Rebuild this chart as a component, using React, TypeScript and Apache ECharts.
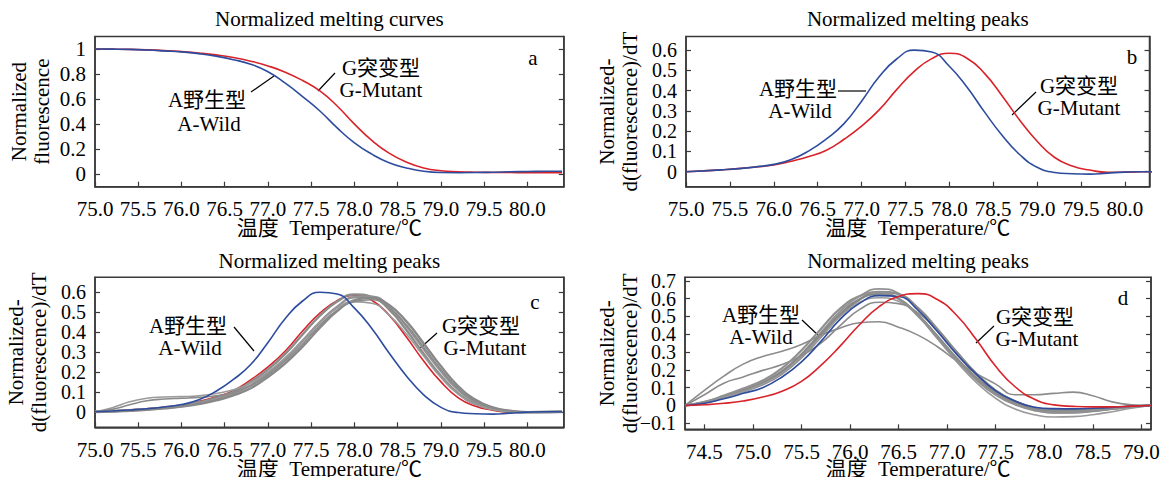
import React, { useEffect, useRef } from "react";
import * as echarts from "echarts";

// ---------- data ----------
const peaksX = [75.0, 75.2, 75.4, 75.6, 75.8, 76.0, 76.2, 76.4, 76.6, 76.8, 77.0, 77.2, 77.4, 77.6, 77.8, 78.0, 78.2, 78.4, 78.6, 78.8, 79.0, 79.2, 79.4, 79.6, 79.8, 80.0, 80.2, 80.4];

// panel a: normalized melting curves
const meltWild = [1.0, 0.999, 0.997, 0.992, 0.985, 0.977, 0.963, 0.943, 0.915, 0.878, 0.818, 0.727, 0.62, 0.505, 0.37, 0.25, 0.16, 0.092, 0.05, 0.023, 0.013, 0.012, 0.013, 0.016, 0.019, 0.021, 0.023, 0.024];
const meltMutant = [1.0, 0.999, 0.997, 0.993, 0.987, 0.979, 0.968, 0.953, 0.932, 0.903, 0.865, 0.815, 0.748, 0.665, 0.545, 0.4, 0.27, 0.168, 0.097, 0.05, 0.028, 0.02, 0.016, 0.014, 0.013, 0.012, 0.012, 0.012];

// panels b, c: normalized melting peaks
const peakWild = [0, 0.004, 0.009, 0.015, 0.024, 0.036, 0.06, 0.103, 0.162, 0.237, 0.348, 0.468, 0.556, 0.6, 0.591, 0.52, 0.418, 0.295, 0.18, 0.085, 0.022, -0.004, -0.01, -0.012, -0.007, -0.002, 0, 0];
const peakMutant = [0, 0.004, 0.009, 0.015, 0.023, 0.033, 0.052, 0.075, 0.106, 0.16, 0.225, 0.305, 0.405, 0.495, 0.558, 0.584, 0.56, 0.485, 0.375, 0.255, 0.15, 0.07, 0.028, 0.008, -0.003, -0.002, 0, 0];

// panel c: samples (grey)
const sampleC1 = [0, 0.003, 0.008, 0.014, 0.021, 0.032, 0.048, 0.07, 0.1, 0.149, 0.213, 0.291, 0.388, 0.482, 0.553, 0.589, 0.577, 0.514, 0.41, 0.291, 0.18, 0.092, 0.039, 0.013, 0.0, -0.002, -0.001, 0];
const sampleC2 = [0, 0.002, 0.007, 0.012, 0.019, 0.029, 0.044, 0.064, 0.091, 0.133, 0.193, 0.265, 0.355, 0.45, 0.527, 0.575, 0.578, 0.525, 0.43, 0.315, 0.203, 0.11, 0.049, 0.018, 0.003, -0.003, -0.001, 0];
const sampleC3 = [0, 0.001, 0.005, 0.01, 0.017, 0.026, 0.039, 0.057, 0.082, 0.118, 0.175, 0.243, 0.327, 0.422, 0.505, 0.56, 0.571, 0.536, 0.454, 0.343, 0.228, 0.128, 0.06, 0.022, 0.005, -0.002, -0.002, 0];
const sampleC4 = [0, 0.02, 0.05, 0.068, 0.074, 0.076, 0.08, 0.092, 0.11, 0.145, 0.2, 0.272, 0.36, 0.45, 0.52, 0.553, 0.545, 0.485, 0.39, 0.28, 0.172, 0.088, 0.036, 0.012, 0.0, -0.002, 0, 0];
const sampleC5 = [0, 0.012, 0.035, 0.055, 0.064, 0.068, 0.072, 0.08, 0.097, 0.13, 0.185, 0.255, 0.34, 0.435, 0.51, 0.553, 0.562, 0.52, 0.435, 0.325, 0.212, 0.116, 0.053, 0.019, 0.004, -0.002, 0, 0];

// panel d
const dX = [74.3, 74.5, 74.7, 74.9, 75.1, 75.3, 75.5, 75.7, 75.9, 76.1, 76.3, 76.5, 76.7, 76.9, 77.1, 77.3, 77.5, 77.7, 77.9, 78.1, 78.3, 78.5, 78.7, 78.9, 79.1];
const dWild = [0, 0.012, 0.038, 0.068, 0.1, 0.16, 0.245, 0.36, 0.485, 0.575, 0.617, 0.612, 0.535, 0.415, 0.287, 0.176, 0.082, 0.025, -0.01, -0.018, -0.019, -0.016, -0.011, -0.004, 0];
const dMutant = [0, 0.004, 0.012, 0.025, 0.047, 0.08, 0.135, 0.225, 0.335, 0.455, 0.555, 0.612, 0.628, 0.595, 0.505, 0.37, 0.22, 0.105, 0.035, 0.003, -0.005, -0.008, -0.008, -0.004, 0];
const sampleD1 = [0, 0.02, 0.05, 0.085, 0.13, 0.195, 0.29, 0.41, 0.53, 0.615, 0.655, 0.63, 0.545, 0.42, 0.29, 0.17, 0.075, 0.015, -0.02, -0.03, -0.03, -0.024, -0.015, -0.006, 0];
const sampleD2 = [0, 0.016, 0.045, 0.078, 0.118, 0.178, 0.27, 0.385, 0.505, 0.595, 0.638, 0.625, 0.548, 0.43, 0.3, 0.18, 0.085, 0.022, -0.015, -0.03, -0.032, -0.027, -0.018, -0.008, 0];
const sampleD3 = [0, 0.018, 0.05, 0.085, 0.125, 0.19, 0.285, 0.4, 0.515, 0.598, 0.625, 0.6, 0.51, 0.39, 0.265, 0.155, 0.068, 0.012, -0.025, -0.04, -0.04, -0.032, -0.02, -0.008, 0];
const sampleD4 = [0, 0.015, 0.045, 0.078, 0.12, 0.18, 0.275, 0.385, 0.5, 0.58, 0.605, 0.585, 0.5, 0.375, 0.245, 0.13, 0.04, -0.02, -0.052, -0.065, -0.063, -0.052, -0.035, -0.015, 0];
const sampleD5 = [0, 0.06, 0.125, 0.16, 0.197, 0.23, 0.28, 0.35, 0.45, 0.54, 0.58, 0.572, 0.52, 0.42, 0.3, 0.18, 0.085, 0.025, -0.01, -0.022, -0.024, -0.02, -0.013, -0.005, 0];
const sampleD6 = [0, 0.085, 0.165, 0.232, 0.275, 0.305, 0.343, 0.395, 0.435, 0.465, 0.47, 0.44, 0.395, 0.33, 0.25, 0.18, 0.12, 0.06, 0.06, 0.068, 0.075, 0.055, 0.02, 0.004, 0];
const sampleD7 = [0, 0.02, 0.055, 0.095, 0.14, 0.21, 0.31, 0.43, 0.545, 0.615, 0.635, 0.6, 0.505, 0.38, 0.255, 0.145, 0.06, 0.005, -0.028, -0.04, -0.038, -0.03, -0.018, -0.007, 0];

// ticks
const xTicksABC = [75.0, 75.5, 76.0, 76.5, 77.0, 77.5, 78.0, 78.5, 79.0, 79.5, 80.0];
const xTicksD = [74.5, 75.0, 75.5, 76.0, 76.5, 77.0, 77.5, 78.0, 78.5, 79.0];
const yTicksA = [0, 0.2, 0.4, 0.6, 0.8, 1];
const yTicksBC = [0, 0.1, 0.2, 0.3, 0.4, 0.5, 0.6];
const yTicksD = [-0.1, 0, 0.1, 0.2, 0.3, 0.4, 0.5, 0.6, 0.7];
// panel d's tick labels are split over two coincident left axes so that none is dropped
const yTicksDOdd = [-0.1, 0.1, 0.3, 0.5, 0.7];
const yTicksDEven = [0, 0.2, 0.4, 0.6];

const titles = ["Normalized melting curves", "Normalized melting peaks", "Normalized melting peaks", "Normalized melting peaks"];
const panelLetters = ["a", "b", "c", "d"];
const xName = "温度  Temperature/℃";
const yNames = ["Normalized\nfluorescence", "Normalized-\nd(fluorescence)/dT", "Normalized-\nd(fluorescence)/dT", "Normalized-\nd(fluorescence)/dT"];

// ---------- styling ----------
const FONT = "'Liberation Serif', 'Times New Roman', 'Noto Sans CJK SC', serif";
const AX = "#3a3a3a";
const BLUE = "#2d4c9e";
const RED = "#d8232a";
const GREY = "#8c8c8c";
const FS = 21;

const grids = [
  { left: 95, top: 36.5, width: 468.8, height: 150.2 },
  { left: 686, top: 36.5, width: 463.5, height: 150.2 },
  { left: 95, top: 277.3, width: 468.8, height: 150 },
  { left: 685, top: 277.3, width: 466, height: 152 },
];
const xRanges = [[75, 80.42], [75, 80.28], [75, 80.42], [74.3, 79.1]];
const yRanges = [[-0.1, 1.1], [-0.074, 0.667], [-0.078, 0.675], [-0.134, 0.72]];
const yNameGaps = [42, 45, 45, 44];
const yLabelSizes = [21, 20, 20, 20];
const xNameGaps = [31, 31, 31, 29];

function pairs(xs: number[], ys: number[]) {
  return xs.map((x, i) => [x, ys[i]]);
}

function lineSeries(xs: number[], ys: number[], color: string, width: number, g: number, z: number) {
  return {
    type: "line",
    xAxisIndex: g,
    yAxisIndex: 2 * g,
    data: pairs(xs, ys),
    showSymbol: false,
    symbol: "none",
    smooth: 0.5,
    clip: true,
    silent: true,
    z,
    lineStyle: { color, width },
  };
}

const txt = (x: number, y: number, text: string, size = FS) => ({
  type: "text",
  x,
  y,
  silent: true,
  style: {
    text,
    font: `${size}px ${FONT}`,
    fill: "#000",
    align: "center",
    verticalAlign: "middle",
    textAlign: "center",
    textVerticalAlign: "middle",
  },
});
const seg = (x1: number, y1: number, x2: number, y2: number) => ({
  type: "line",
  silent: true,
  shape: { x1, y1, x2, y2 },
  style: { stroke: "#000", lineWidth: 1.2 },
});

export default function App() {
  const ref = useRef<HTMLDivElement>(null);
  useEffect(() => {
    if (!ref.current) return;
    const chart = echarts.init(ref.current, undefined, { renderer: "svg" });

    const xTicks = [xTicksABC, xTicksABC, xTicksABC, xTicksD];
    const yTicks = [yTicksA, yTicksBC, yTicksBC, yTicksDOdd];

    const xAxis = grids.map((_, g) => ({
      type: "value",
      gridIndex: g,
      min: xRanges[g][0],
      max: xRanges[g][1],
      axisLine: { show: true, onZero: false, lineStyle: { color: AX, width: 1.5 } },
      axisTick: { show: true, inside: true, length: 5, customValues: xTicks[g], lineStyle: { color: AX, width: 1.2 } },
      axisLabel: {
        customValues: xTicks[g],
        formatter: (v: number) => v.toFixed(1),
        color: "#000",
        fontFamily: FONT,
        fontSize: FS,
        margin: 12,
        showMinLabel: true,
        showMaxLabel: true,
        hideOverlap: false,
      },
      splitLine: { show: false },
      name: xName,
      nameLocation: "middle",
      nameGap: xNameGaps[g],
      nameMoveOverlap: false,
      nameTextStyle: { color: "#000", fontFamily: FONT, fontSize: FS },
    }));

    const yLabel = (g: number, values: number[]) => ({
      customValues: values,
      formatter: (v: number) => String(v).replace("-", "\u2212"),
      color: "#000",
      fontFamily: FONT,
      fontSize: yLabelSizes[g],
      margin: 9,
      showMinLabel: true,
      showMaxLabel: true,
      hideOverlap: false,
    });

    const yAxis: any[] = [];
    grids.forEach((_, g) => {
      yAxis.push({
        type: "value",
        gridIndex: g,
        position: "left",
        min: yRanges[g][0],
        max: yRanges[g][1],
        axisLine: { show: true, onZero: false, lineStyle: { color: AX, width: 1.5 } },
        axisTick: { show: true, inside: true, length: 5, customValues: yTicks[g], lineStyle: { color: AX, width: 1.2 } },
        axisLabel: yLabel(g, yTicks[g]),
        splitLine: { show: false },
        name: yNames[g],
        nameLocation: "middle",
        nameGap: yNameGaps[g],
        nameMoveOverlap: false,
        nameTextStyle: { color: "#000", fontFamily: FONT, fontSize: FS, lineHeight: 23 },
      });
      yAxis.push({
        type: "value",
        gridIndex: g,
        position: "right",
        min: yRanges[g][0],
        max: yRanges[g][1],
        axisLine: { show: true, onZero: false, lineStyle: { color: AX, width: 1.5 } },
        axisTick: { show: true, inside: true, length: 5, customValues: g === 3 ? yTicksD : yTicks[g], lineStyle: { color: AX, width: 1.2 } },
        axisLabel: { show: false },
        splitLine: { show: false },
      });
    });
    // second left axis of panel d carrying the remaining labels/ticks
    yAxis.push({
      type: "value",
      gridIndex: 3,
      position: "left",
      offset: 0,
      min: yRanges[3][0],
      max: yRanges[3][1],
      axisLine: { show: false },
      axisTick: { show: true, inside: true, length: 5, customValues: yTicksDEven, lineStyle: { color: AX, width: 1.2 } },
      axisLabel: yLabel(3, yTicksDEven),
      splitLine: { show: false },
    });

    const series: any[] = [
      // a
      lineSeries(peaksX, meltMutant, RED, 1.6, 0, 3),
      lineSeries(peaksX, meltWild, BLUE, 1.6, 0, 4),
      // b
      lineSeries(peaksX, peakMutant, RED, 1.6, 1, 3),
      lineSeries(peaksX, peakWild, BLUE, 1.6, 1, 4),
      // c
      lineSeries(peaksX, peakMutant, RED, 1.6, 2, 2),
      lineSeries(peaksX, sampleC1, GREY, 2.4, 2, 3),
      lineSeries(peaksX, sampleC2, "#939393", 2.4, 2, 3),
      lineSeries(peaksX, sampleC3, "#888888", 2.4, 2, 3),
      lineSeries(peaksX, sampleC4, "#9a9a9a", 1.6, 2, 3),
      lineSeries(peaksX, sampleC5, "#8a8a8a", 1.6, 2, 3),
      lineSeries(peaksX, peakWild, BLUE, 1.6, 2, 4),
      // d
      lineSeries(dX, sampleD1, "#939393", 1.8, 3, 2),
      lineSeries(dX, sampleD2, GREY, 2.2, 3, 2),
      lineSeries(dX, sampleD3, "#888888", 2.2, 3, 2),
      lineSeries(dX, sampleD4, "#9a9a9a", 1.6, 3, 2),
      lineSeries(dX, sampleD5, "#8c8c8c", 1.6, 3, 2),
      lineSeries(dX, sampleD6, "#8c8c8c", 1.6, 3, 2),
      lineSeries(dX, sampleD7, "#909090", 2.2, 3, 2),
      lineSeries(dX, dWild, BLUE, 1.6, 3, 4),
      lineSeries(dX, dMutant, RED, 1.6, 3, 5),
    ];

    const titleY = [19, 19, 261, 261];
    const graphics: any[] = [];
    grids.forEach((gr, g) => {
      graphics.push(txt(gr.left + gr.width / 2, titleY[g], titles[g]));
    });
    const letterPos = [[533, 58], [1132, 57], [535, 302], [1123, 298]];
    letterPos.forEach((p, i) => graphics.push(txt(p[0], p[1], panelLetters[i])));

    // annotations
    graphics.push(
      // a
      txt(207, 100, "A野生型"), txt(209, 124, "A-Wild"), seg(251, 92, 274, 76),
      txt(381, 68, "G突变型"), txt(381, 90, "G-Mutant"), seg(318, 91, 335, 73),
      // b
      txt(798, 89, "A野生型"), txt(800, 111, "A-Wild"), seg(838, 91, 866, 91),
      txt(1079, 86, "G突变型"), txt(1079, 108, "G-Mutant"), seg(1012, 115, 1036, 92),
      // c
      txt(188, 326, "A野生型"), txt(190, 348, "A-Wild"), seg(234, 327, 254, 351),
      txt(481, 326, "G突变型"), txt(485, 348, "G-Mutant"), seg(418, 350, 437, 333),
      // d
      txt(761, 315, "A野生型"), txt(761, 337, "A-Wild"), seg(802, 320, 819, 336),
      txt(1035, 317, "G突变型"), txt(1037, 339, "G-Mutant"), seg(976, 343, 994, 326),
    );

    chart.setOption({
      animation: false,
      backgroundColor: "#ffffff",
      grid: grids.map((gr) => ({ ...gr, show: true, borderColor: AX, borderWidth: 1.5, backgroundColor: "transparent", containLabel: false })),
      xAxis,
      yAxis,
      series,
      graphic: { elements: graphics },
    });
    return () => chart.dispose();
  }, []);
  return <div ref={ref} style={{ width: 1172, height: 485, margin: -8 }} />;
}
